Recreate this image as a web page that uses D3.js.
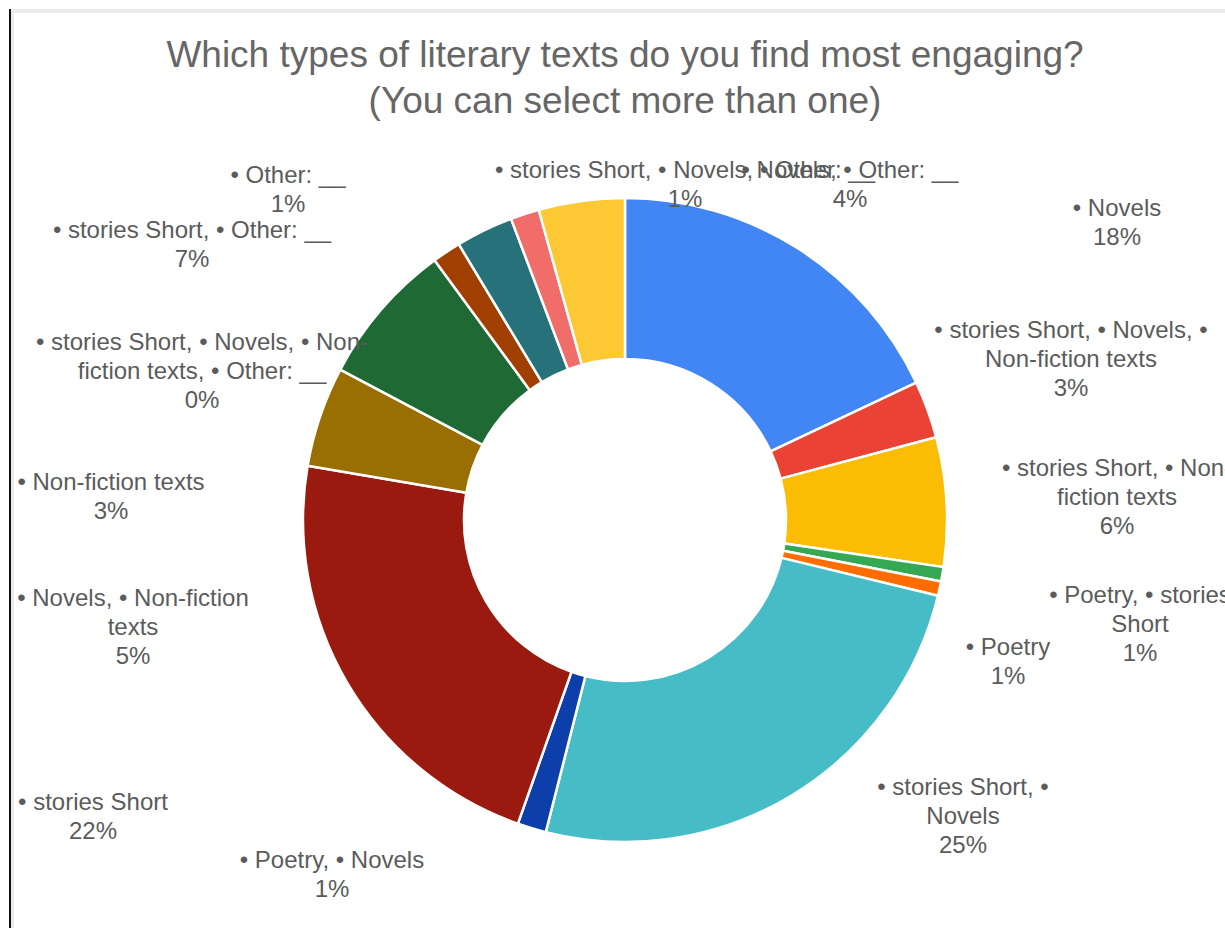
<!DOCTYPE html>
<html>
<head>
<meta charset="utf-8">
<script src="https://cdn.jsdelivr.net/npm/d3@7"></script>
<style>
  html, body { margin: 0; padding: 0; background: #fff; }
  svg { display: block; }
</style>
</head>
<body>
<svg id="chart" width="1225" height="928"></svg>
<script>
// Survey answers (multiple choice allowed), in slice order clockwise from 12 o'clock
const categories = [
  "• Novels",
  "• stories Short, • Novels, • Non-fiction texts",
  "• stories Short, • Non-fiction texts",
  "• Poetry, • stories Short",
  "• Poetry",
  "• stories Short, • Novels",
  "• Poetry, • Novels",
  "• stories Short",
  "• Novels, • Non-fiction texts",
  "• stories Short, • Other: __",
  "• Other: __",
  "• Non-fiction texts",
  "• stories Short, • Novels, • Non-fiction texts, • Other: __",
  "• stories Short, • Novels, • Other: __",
  "• Novels, • Other: __"
];
const counts = [25, 4, 9, 1, 1, 35, 2, 31, 7, 10, 2, 4, 0, 2, 6];
const colors = [
  "#4285F4", "#EA4335", "#FBBC04", "#34A853", "#FF6D01", "#46BDC6",
  "#0C3FAA", "#9A1A0F", "#986F00", "#1F6934", "#A13F00", "#27727A",
  "#7BAAF7", "#F06D69", "#FCC934"
];
const titleLines = [
  "Which types of literary texts do you find most engaging?",
  "(You can select more than one)"
];

// Label boxes: centre x, first baseline y, wrap width
const labelLayout = [
  { x: 1117, y: 216, w: 300 },
  { x: 1071, y: 338, w: 300 },
  { x: 1117, y: 476, w: 260 },
  { x: 1140, y: 603, w: 220 },
  { x: 1008, y: 655, w: 300 },
  { x: 963,  y: 795, w: 220 },
  { x: 332,  y: 868, w: 300 },
  { x: 93,   y: 810, w: 300 },
  { x: 133,  y: 606, w: 260 },
  { x: 192,  y: 238, w: 300 },
  { x: 288,  y: 183, w: 300 },
  { x: 111,  y: 490, w: 300 },
  { x: 202,  y: 350, w: 360 },
  { x: 685,  y: 178, w: 420 },
  { x: 850,  y: 178, w: 300 }
];

const W = 1225, H = 928;
const cx = 625, cy = 520, rOuter = 322, rInner = 161;
const labelFont = "24px 'Liberation Sans', Arial, sans-serif";
const lineH = 29;

const svg = d3.select("#chart");

// frame edges
svg.append("rect").attr("x", 11).attr("y", 9).attr("width", W - 11).attr("height", 4).attr("fill", "#ececec");
svg.append("rect").attr("x", 11).attr("y", 9).attr("width", 3).attr("height", H - 9).attr("fill", "#ececec");
svg.append("rect").attr("x", 9).attr("y", 9).attr("width", 2).attr("height", H - 9).attr("fill", "#111");

// title
svg.append("g")
  .selectAll("text")
  .data(titleLines)
  .join("text")
  .attr("x", cx)
  .attr("y", (d, i) => 67 + i * 46)
  .attr("text-anchor", "middle")
  .attr("font-family", "'Liberation Sans', Arial, sans-serif")
  .attr("font-size", 37)
  .attr("fill", "#666")
  .text(d => d);

const data = categories.map((name, i) => ({ name, count: counts[i], color: colors[i], i }));
const total = d3.sum(counts);

const pie = d3.pie().sort(null).value(d => d.count).startAngle(0).endAngle(2 * Math.PI);
const arc = d3.arc().innerRadius(rInner).outerRadius(rOuter);
const arcs = pie(data);

svg.append("g")
  .attr("transform", `translate(${cx},${cy})`)
  .selectAll("path")
  .data(arcs.filter(a => a.data.count > 0))
  .join("path")
  .attr("d", arc)
  .attr("fill", a => a.data.color)
  .attr("stroke", "#fff")
  .attr("stroke-width", 2.5)
  .attr("stroke-linejoin", "round");

// word wrap that breaks at spaces and after hyphens
const ctx = document.createElement("canvas").getContext("2d");
ctx.font = labelFont;
function wrap(text, maxW) {
  const pieces = [];
  text.split(" ").forEach((word, wi) => {
    const parts = word.split(/(?<=-)/);
    parts.forEach((p, pi) => pieces.push({ t: p, sp: wi > 0 && pi === 0 }));
  });
  const lines = [];
  let cur = "";
  pieces.forEach(p => {
    const cand = cur === "" ? p.t : cur + (p.sp ? " " : "") + p.t;
    if (cur !== "" && ctx.measureText(cand).width > maxW) {
      lines.push(cur);
      cur = p.t;
    } else {
      cur = cand;
    }
  });
  if (cur) lines.push(cur);
  return lines;
}

const pct = v => Math.round(v / total * 100) + "%";

const labels = svg.append("g")
  .attr("font-family", "'Liberation Sans', Arial, sans-serif")
  .attr("font-size", 24)
  .attr("fill", "#5b5b5b")
  .attr("text-anchor", "middle");

arcs.forEach(a => {
  const lay = labelLayout[a.data.i];
  const lines = wrap(a.data.name, lay.w).concat([pct(a.data.count)]);
  labels.append("text")
    .selectAll("tspan")
    .data(lines)
    .join("tspan")
    .attr("x", lay.x)
    .attr("y", (d, k) => lay.y + k * lineH)
    .text(d => d);
});
</script>
</body>
</html>
